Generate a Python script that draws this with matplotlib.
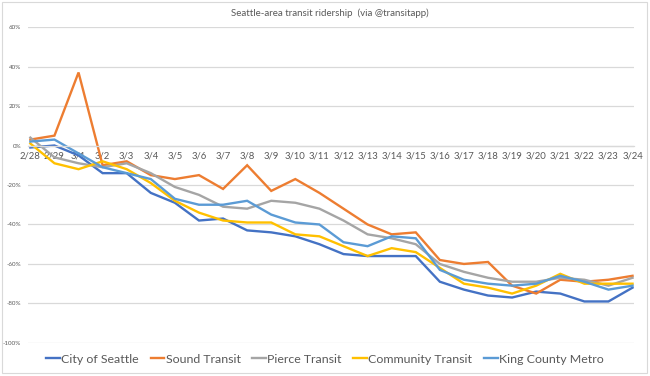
import numpy as np
import matplotlib.pyplot as plt
from matplotlib.patches import Rectangle
from matplotlib.ticker import FuncFormatter

plt.rcParams['font.family'] = ['Lato', 'DejaVu Sans']

# Data (percent change in ridership)
dates = ['2/28', '2/29', '3/1', '3/2', '3/3', '3/4', '3/5', '3/6', '3/7', '3/8',
         '3/9', '3/10', '3/11', '3/12', '3/13', '3/14', '3/15', '3/16', '3/17',
         '3/18', '3/19', '3/20', '3/21', '3/22', '3/23', '3/24']
city_of_seattle = [-1, 0, -5, -14, -14, -24, -29, -38, -37, -43, -44, -46, -50,
                   -55, -56, -56, -56, -69, -73, -76, -77, -74, -75, -79, -79, -72]
sound_transit = [3, 5, 37, -10, -8, -15, -17, -15, -22, -10, -23, -17, -24,
                 -32, -40, -45, -44, -58, -60, -59, -71, -75, -68, -69, -68, -66]
pierce_transit = [4, -6, -9, -11, -9, -14, -21, -25, -31, -32, -28, -29, -32,
                  -38, -45, -47, -50, -60, -64, -67, -69, -69, -67, -68, -71, -67]
community_transit = [1, -9, -12, -8, -12, -19, -28, -34, -38, -39, -39, -45, -46,
                     -51, -56, -52, -54, -62, -70, -72, -75, -71, -65, -70, -70, -70]
king_county_metro = [2, 3, -4, -11, -14, -17, -27, -30, -30, -28, -35, -39, -40,
                     -49, -51, -46, -47, -63, -68, -70, -71, -70, -66, -69, -73, -71]

series = [
    ('City of Seattle', city_of_seattle, '#4472C4'),
    ('Sound Transit', sound_transit, '#ED7D31'),
    ('Pierce Transit', pierce_transit, '#A5A5A5'),
    ('Community Transit', community_transit, '#FFC000'),
    ('King County Metro', king_county_metro, '#5B9BD5'),
]

fig = plt.figure(figsize=(6.5, 3.76), dpi=100)
ax = fig.add_axes([0.043, 0.088, 0.932, 0.840])

x = np.arange(len(dates))
for name, vals, color in series:
    ax.plot(x, vals, color=color, lw=1.7, label=name, solid_joinstyle='miter')

# axes styling (Excel-like)
ax.set_xlim(-0.1, len(dates) - 1 + 0.05)
ax.set_ylim(-100, 60)
ax.set_yticks(np.arange(-100, 61, 20))
ax.yaxis.set_major_formatter(FuncFormatter(lambda v, p: f'{int(v)}%'))
ax.grid(axis='y', color='#D9D9D9', lw=0.9)
ax.set_axisbelow(True)
for s in ['top', 'right', 'left']:
    ax.spines[s].set_visible(False)
ax.spines['bottom'].set_position(('data', 0))
ax.spines['bottom'].set_color('#D9D9D9')
ax.spines['bottom'].set_linewidth(0.9)
ax.set_xticks(x)
ax.set_xticklabels(dates)
ax.tick_params(axis='x', length=0, pad=4, labelsize=6.8, labelcolor='#595959')
ax.tick_params(axis='y', length=0, pad=5, labelsize=4.5, labelcolor='#595959')

fig.text(0.508, 0.965, 'Seattle-area transit ridership  (via @transitapp)',
         ha='center', va='center', fontsize=7, color='#595959')

fig.legend(loc='center', bbox_to_anchor=(0.5, 0.045), ncol=5, frameon=False,
           fontsize=8.9, handlelength=1.1, handletextpad=0.1, columnspacing=0.95,
           labelcolor='#595959')

# chart border
fig.patches.append(Rectangle((0.003, 0.008), 0.992, 0.988, transform=fig.transFigure,
                             fill=False, edgecolor='#D9D9D9', lw=0.8))

plt.savefig('out.png', dpi=100)
